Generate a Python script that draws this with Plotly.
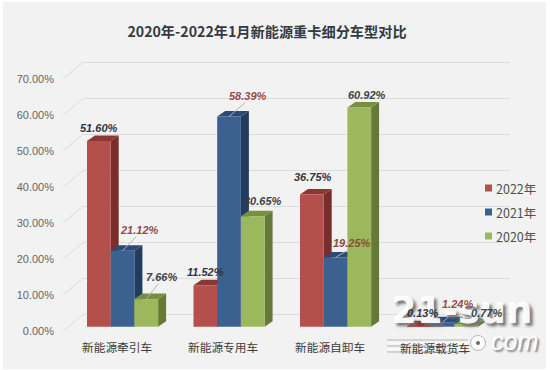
import plotly.graph_objects as go

categories = ["新能源牵引车", "新能源专用车", "新能源自卸车", "新能源载货车"]
series_names = ["2022年", "2021年", "2020年"]
values_2022 = [51.60, 11.52, 36.75, 0.13]
values_2021 = [21.12, 58.39, 19.25, 1.24]
values_2020 = [7.66, 30.65, 60.92, 0.77]
y_ticks = [0, 10, 20, 30, 40, 50, 60, 70]
tick_labels = ["0.00%", "10.00%", "20.00%", "30.00%", "40.00%", "50.00%", "60.00%", "70.00%"]

W, H = 550, 370
PX_PER_PCT = 3.6
Y0_PX = 331.0
def ypx(p):
    return (Y0_PX - p) / PX_PER_PCT
y_range = [ypx(H), ypx(0)]
x_range = [0, W]

FRONT = {"2022年": "#b4504c", "2021年": "#3c6090", "2020年": "#9cb85c"}
SIDE = {"2022年": "#7a2e2b", "2021年": "#223c60", "2020年": "#667a38"}
TOP = {"2022年": "#8e3633", "2021年": "#2c4a74", "2020年": "#76903f"}

group_left = [87.0, 193.5, 300.0, 407.0]
bar_w = 23.7
dx, dy = 8.0, 5.5 / PX_PER_PCT
base_lift = 4.3 / PX_PER_PCT
all_vals = [values_2022, values_2021, values_2020]

fig = go.Figure()

wall_dx, wall_dy = 20.0, 16.5 / PX_PER_PCT
for t in y_ticks:
    fig.add_trace(go.Scatter(x=[63, 63 + wall_dx, 510], y=[t, t + wall_dy, t + wall_dy], mode="lines",
                             line=dict(color="#dcdcdc", width=1), showlegend=False, hoverinfo="skip"))

for si, (name, vals) in enumerate(zip(series_names, all_vals)):
    for g, v in enumerate(vals):
        l = group_left[g] + si * bar_w
        r = l + bar_w
        b = base_lift
        t = v + base_lift
        fig.add_trace(go.Scatter(x=[r, r + dx, r + dx, r, r], y=[b, b + dy, t + dy, t, b], mode="lines",
                                 fill="toself", fillcolor=SIDE[name], line=dict(width=0),
                                 showlegend=False, hoverinfo="skip"))
        fig.add_trace(go.Scatter(x=[l, r, r + dx, l + dx, l], y=[t, t, t + dy, t + dy, t], mode="lines",
                                 fill="toself", fillcolor=TOP[name], line=dict(width=0),
                                 showlegend=False, hoverinfo="skip"))

for si, (name, vals) in enumerate(zip(series_names, all_vals)):
    fig.add_trace(go.Bar(x=[group_left[g] + si * bar_w + bar_w / 2 for g in range(4)], y=vals,
                         base=base_lift, width=bar_w, name=name, marker=dict(color=FRONT[name], line=dict(width=0)),
                         xaxis="x2", yaxis="y2", showlegend=False))

# legend
legend_y = [188, 212, 236]
for name, ly in zip(series_names, legend_y):
    fig.add_trace(go.Scatter(x=[488.5], y=[ypx(ly)], mode="markers", xaxis="x2", yaxis="y2",
                             marker=dict(symbol="square", size=7, color=FRONT[name]), showlegend=False, hoverinfo="skip"))
    fig.add_annotation(x=494, y=ypx(ly), xref="x2", yref="y2", text=name, showarrow=False, xanchor="left",
                       font=dict(size=12.5, color="#505050", family="Noto Sans CJK SC"))

# watermark (below the labels)
fig.add_annotation(x=462, y=ypx(310), xref="x2", yref="y2", text="<b>21-sun</b>", showarrow=False,
                   font=dict(size=37, color="rgba(255,255,255,0.95)", family="DejaVu Sans",
                             shadow="3px 3px 3px #707070"))
fig.add_annotation(x=514, y=ypx(341), xref="x2", yref="y2", text="<i>com</i>", showarrow=False,
                   font=dict(size=25, color="#ffffff", family="Liberation Sans", shadow="2px 2px 2px #808080"))
fig.add_trace(go.Scatter(x=[478], y=[ypx(343)], mode="markers", xaxis="x2", yaxis="y2",
                         marker=dict(symbol="circle", size=15, color="#ffffff", line=dict(color="#b8b8b8", width=1)),
                         showlegend=False, hoverinfo="skip"))
fig.add_trace(go.Scatter(x=[478], y=[ypx(343)], mode="markers", xaxis="x2", yaxis="y2",
                         marker=dict(symbol="circle", size=4, color="#6a6a6a"), showlegend=False, hoverinfo="skip"))

# data labels: pixel offsets from each bar's top-left corner
label_off = {
    "2022年": [(11.7, 12.7), (11.5, 13), (13, 17), (15, 13.7)],
    "2021年": [(28.6, 21), (31, 21), (28, 14.7), (27, 18)],
    "2020年": [(26.6, 22), (22, 15.7), (20, 12.7), (32, 11)],
}
leaders = {"2021年": [0, 1, 2, 3], "2020年": [0, 3]}
label_col = {"2022年": "#2f3640", "2021年": "#9a4a48", "2020年": "#3c4248"}
for si, (name, vals) in enumerate(zip(series_names, all_vals)):
    for g, v in enumerate(vals):
        ox, oy = label_off[name][g]
        col = label_col[name]
        if name == "2021年" and g == 2:
            col = "#8a4c3a"
        lx = group_left[g] + si * bar_w
        if g in leaders.get(name, []):
            fig.add_trace(go.Scatter(x=[lx + bar_w / 2, lx + ox - 3], y=[v + base_lift, v + base_lift + (oy - 7) / PX_PER_PCT],
                                     mode="lines", xaxis="x2", yaxis="y2", line=dict(color="#a9b4c2", width=1),
                                     showlegend=False, hoverinfo="skip"))
        fig.add_annotation(x=lx + ox, y=v + base_lift + oy / PX_PER_PCT, xref="x2", yref="y2",
                           text=f"<b><i>{v:.2f}%</i></b>", showarrow=False, xanchor="center",
                           font=dict(size=11, color=col, family="Liberation Sans"))

stripes = [(340, "#b4b4b4"), (343, "#ffffff"), (346, "#b4b4b4"), (349, "#ffffff"), (352, "#b4b4b4")]
shapes = [dict(type="rect", xref="paper", yref="paper", x0=3 / W, x1=546 / W, y0=1 / H, y1=1 - 2 / H,
               fillcolor="#f2f2f2", line=dict(width=0), layer="below")]
for sy, sc in stripes:
    shapes.append(dict(type="line", xref="x2", yref="y2", x0=387, x1=468, y0=ypx(sy), y1=ypx(sy),
                       line=dict(color=sc, width=1), layer="above"))

fig.update_layout(
    width=W, height=H, margin=dict(l=0, r=0, t=0, b=0), autosize=False,
    paper_bgcolor="#ffffff", plot_bgcolor="rgba(0,0,0,0)", barmode="overlay",
    title=dict(text="<b>2020年-2022年1月新能源重卡细分车型对比</b>", x=267 / W, xanchor="center", y=1 - 32 / H, yanchor="middle",
               font=dict(size=14.2, color="#333a42", family="Noto Sans CJK SC")),
    xaxis=dict(range=x_range, domain=[0, 1], visible=False, fixedrange=True),
    yaxis=dict(range=y_range, domain=[0, 1], tickmode="array", tickvals=y_ticks, ticktext=tick_labels, ticks="",
               showgrid=False, zeroline=False, showline=False, anchor="free", position=54 / W,
               tickfont=dict(size=11, color="#666666", family="Liberation Sans"), fixedrange=True),
    xaxis2=dict(range=x_range, overlaying="x", visible=False, fixedrange=True),
    yaxis2=dict(range=y_range, overlaying="y", visible=False, fixedrange=True),
    shapes=shapes,
)

for cat, cx, cy in zip(categories, [117, 223, 330, 435], [346, 346, 346, 347]):
    fig.add_annotation(x=cx, y=ypx(cy), xref="x2", yref="y2", text=cat, showarrow=False,
                       font=dict(size=11.7, color="#3c3c3c", family="Noto Sans CJK SC"))

fig.write_html("out.html", config={"displayModeBar": False},
               post_script="document.body.style.margin='0';window.dispatchEvent(new Event('resize'));")
